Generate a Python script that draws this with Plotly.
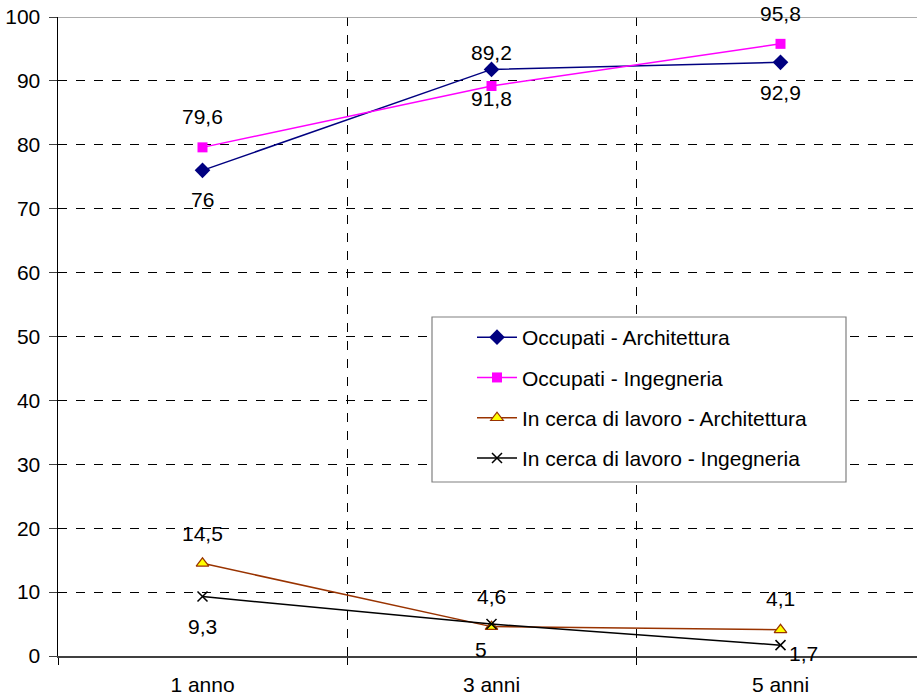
import plotly.graph_objects as go

categories = ["1 anno", "3 anni", "5 anni"]
occ_arch = [76, 91.8, 92.9]
occ_ing = [79.6, 89.2, 95.8]
cerca_arch = [14.5, 4.6, 4.1]
cerca_ing = [9.3, 5, 1.7]
series_names = [
    "Occupati - Architettura",
    "Occupati - Ingegneria",
    "In cerca di lavoro - Architettura",
    "In cerca di lavoro - Ingegneria",
]
y_ticks = list(range(0, 101, 10))

FONT = "Liberation Sans, Arial, sans-serif"
FS = 21
xpos = list(range(len(categories)))

styles = [
    dict(line=dict(color="#000080", width=1.5),
         marker=dict(symbol="diamond", size=12, color="#000080")),
    dict(line=dict(color="#FF00FF", width=1.5),
         marker=dict(symbol="square", size=10, color="#FF00FF")),
    dict(line=dict(color="#993300", width=1.5),
         marker=dict(symbol="triangle-up", size=11, color="#FFFF00",
                     line=dict(color="#993300", width=1.2))),
    dict(line=dict(color="#000000", width=1.5),
         marker=dict(symbol="x-thin", size=10, color="#000000",
                     line=dict(color="#000000", width=1.5))),
]
# label offsets (xshift, yshift) per series / point
label_shifts = [
    [(0, -29), (0, -29), (0, -30)],
    [(0, 31), (0, 34), (0, 30)],
    [(0, 30), (0, 30), (0, 31)],
    [(0, -30), (-11, -25), (23, -8)],
]

fig = go.Figure()
all_series = [occ_arch, occ_ing, cerca_arch, cerca_ing]
annotations = []
for i, (name, vals) in enumerate(zip(series_names, all_series)):
    fig.add_trace(go.Scatter(
        x=xpos, y=vals, mode="lines+markers", name=name,
        legendgroup=f"g{i}", **styles[i]))
    for j, v in enumerate(vals):
        txt = (f"{v:g}").replace(".", ",")
        dx, dy = label_shifts[i][j]
        annotations.append(dict(
            x=xpos[j], y=v, text=txt, showarrow=False,
            xshift=dx, yshift=dy,
            font=dict(family=FONT, size=FS, color="black")))

fig.update_layout(
    width=917, height=695,
    margin=dict(l=58, r=0, t=17, b=39, autoexpand=False),
    paper_bgcolor="white", plot_bgcolor="white",
    font=dict(family=FONT, size=FS, color="black"),
    showlegend=True,
    legend=dict(
        x=(472 - 58) / 859, y=(656 - 317) / 639,
        xanchor="left", yanchor="top",
        bgcolor="rgba(0,0,0,0)", borderwidth=0,
        font=dict(family=FONT, size=FS, color="black"),
        tracegroupgap=10, traceorder="grouped", itemwidth=40,
    ),
    annotations=annotations,
    shapes=[
        dict(type="rect", xref="paper", yref="paper",
             x0=(432 - 58) / 859, x1=(846 - 58) / 859,
             y0=(656 - 482) / 639, y1=(656 - 317) / 639,
             fillcolor="white", line=dict(color="#808080", width=1.2),
             layer="above"),
        dict(type="line", xref="paper", yref="y", x0=0, x1=1, y0=100, y1=100,
             line=dict(color="#909090", width=1.5), layer="above"),
    ],
    xaxis=dict(
        range=[-0.5, -0.5 + 859 / 289],
        tickmode="array", tickvals=xpos, ticktext=categories,
        ticks="", showgrid=False, zeroline=False, automargin=False,
        showline=True, linecolor="#404040", linewidth=2,
        ticklabelstandoff=9, ticklabeloverflow="allow",
        tickfont=dict(family=FONT, size=FS, color="black"),
        minor=dict(tick0=-0.5, dtick=1, ticks="outside", ticklen=7,
                   tickcolor="black", tickwidth=1,
                   showgrid=True, gridcolor="black", griddash="dash",
                   gridwidth=1),
        fixedrange=True,
    ),
    yaxis=dict(
        range=[0, 100], tickmode="array", tickvals=y_ticks,
        ticks="outside", ticklen=8, tickcolor="#404040",
        showgrid=True, gridcolor="black", griddash="dash", gridwidth=1,
        zeroline=False, showline=True, linecolor="black", linewidth=1.5,
        automargin=False, ticklabeloverflow="allow",
        tickfont=dict(family=FONT, size=FS, color="black"),
        ticklabelstandoff=4,
        fixedrange=True,
    ),
)

fig.write_html("out.html",
               config={"displayModeBar": False, "staticPlot": True},
               post_script="document.body.style.margin='0px';")
